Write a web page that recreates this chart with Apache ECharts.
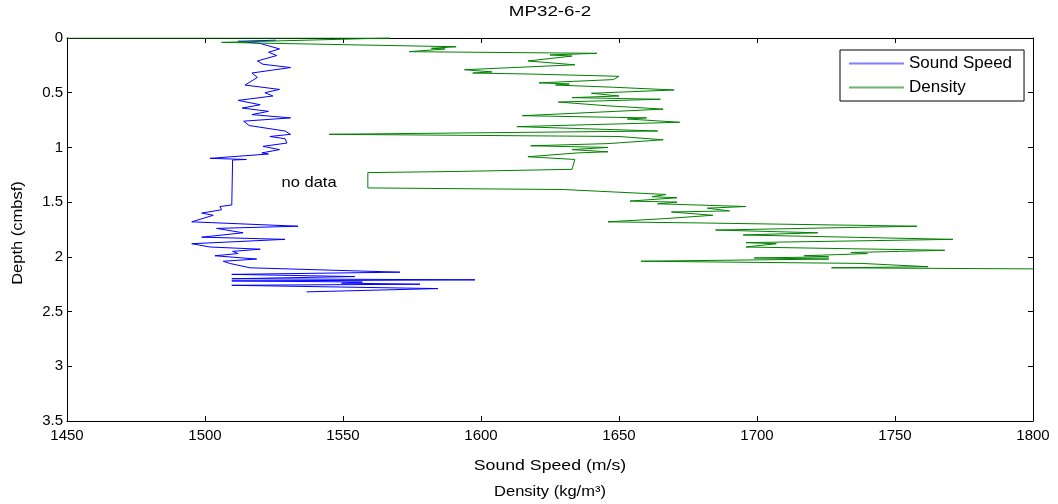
<!DOCTYPE html>
<html>
<head>
<meta charset="utf-8">
<script src="https://cdn.jsdelivr.net/npm/echarts@6/dist/echarts.min.js"></script>
<style>
html,body{margin:0;padding:0;background:#fff;}
#c{width:1058px;height:504px;}
</style>
</head>
<body>
<div id="c"></div>
<script>
// Sound speed (m/s) profile: values and depths (cmbsf)
const soundSpeed = [1525.7,1512,1520,1527,1523,1526,1519,1521,1531,1517,1519,1514.5,1527,1521.7,1524.6,1512,1520,1513.5,1523,1517,1531,1514,1516,1529,1531,1523.5,1529,1529.7,1521,1527,1520.6,1523,1501.8,1515,1510,1509.7,1509.7,1505.4,1506,1498.8,1503,1495.2,1533.7,1504.2,1513.8,1498.8,1529,1495.2,1501.8,1520,1510,1512,1503.6,1518.7,1506.6,1509,1516.3,1570.6,1509.7,1554.3,1509.7,1597.8,1509.7,1557,1549.5,1577.9,1509.7,1584.4,1536.8];
const soundDepth = [0.02,0.03,0.05,0.10,0.13,0.16,0.21,0.24,0.27,0.32,0.36,0.43,0.47,0.50,0.53,0.57,0.61,0.64,0.67,0.70,0.73,0.76,0.80,0.85,0.88,0.90,0.92,0.96,0.99,1.02,1.05,1.06,1.10,1.11,1.115,1.12,1.526,1.54,1.57,1.60,1.62,1.68,1.72,1.74,1.78,1.82,1.84,1.88,1.91,1.93,1.95,1.97,1.99,2.02,2.04,2.06,2.10,2.14,2.16,2.18,2.20,2.21,2.22,2.23,2.24,2.25,2.26,2.29,2.32];
// Density (kg/m^3) profile
const density = [1450,1567,1506,1591,1582,1587,1574,1642,1625,1633,1617,1634,1594,1604,1597,1619,1650,1648,1621,1632,1627,1648,1670,1640,1650,1633,1665,1628,1646,1666,1615,1660,1653,1672,1613,1664,1545,1650,1666,1646,1618,1646,1633,1646,1635,1617,1634,1633,1590,1559,1559,1630,1667,1662,1671,1654,1671,1664,1696,1682,1690,1669,1684,1667,1646,1679,1758,1685,1722,1695,1771,1696,1707,1696,1768,1752,1734,1740,1717,1726,1699,1726,1658,1738,1762,1727,1800];
const densityDepth = [0,0,0.04,0.08,0.094,0.10,0.125,0.14,0.155,0.165,0.21,0.245,0.29,0.31,0.32,0.33,0.35,0.38,0.41,0.42,0.43,0.45,0.475,0.505,0.53,0.545,0.56,0.585,0.62,0.65,0.71,0.73,0.74,0.77,0.81,0.85,0.88,0.90,0.93,0.965,0.985,1.00,1.02,1.04,1.05,1.085,1.11,1.20,1.22,1.23,1.37,1.385,1.43,1.45,1.46,1.49,1.50,1.515,1.54,1.555,1.58,1.59,1.62,1.65,1.68,1.69,1.72,1.755,1.78,1.80,1.84,1.87,1.88,1.91,1.94,1.95,1.96,1.97,1.99,2.00,2.01,2.02,2.04,2.06,2.09,2.10,2.11];
const xTicks = {min:1450, max:1800, interval:50};
const yTicks = {min:0, max:3.5, interval:0.5};

const FONT = 'Liberation Sans, Arial, sans-serif';
const chart = echarts.init(document.getElementById('c'), null, {renderer:'canvas'});
const axisLine = {show:true, onZero:false, lineStyle:{color:'#000', width:1}};
const tick = {show:true, inside:true, length:5, lineStyle:{color:'#000'}};
const lbl = {color:'#000', fontFamily:FONT, fontSize:15, formatter:v=>String(v)};

chart.setOption({
  animation:false,
  backgroundColor:'#fff',
  grid:{left:67, right:25, top:38, bottom:83, containLabel:false},
  xAxis:[
    {type:'value', position:'bottom', min:xTicks.min, max:xTicks.max, interval:xTicks.interval,
     axisLine, axisTick:tick, axisLabel:Object.assign({margin:7}, lbl), splitLine:{show:false}},
    {type:'value', position:'top', min:xTicks.min, max:xTicks.max, interval:xTicks.interval,
     axisLine, axisTick:tick, axisLabel:{show:false}, splitLine:{show:false}}
  ],
  yAxis:[
    {type:'value', position:'left', inverse:true, min:yTicks.min, max:yTicks.max, interval:yTicks.interval,
     axisLine, axisTick:tick, axisLabel:Object.assign({margin:4}, lbl), splitLine:{show:false}},
    {type:'value', position:'right', inverse:true, min:yTicks.min, max:yTicks.max, interval:yTicks.interval,
     axisLine, axisTick:tick, axisLabel:{show:false}, splitLine:{show:false}}
  ],
  legend:{
    left:840, top:50, orient:'vertical', itemWidth:55, itemHeight:2, itemGap:7,
    padding:[5,12,5,9], borderColor:'#000', borderWidth:1, backgroundColor:'#fff',
    textStyle:{color:'#000', fontFamily:FONT, fontSize:17, lineHeight:17},
    data:[
      {name:'Sound Speed', icon:'rect', itemStyle:{color:'#8080ff', borderWidth:0, opacity:1}},
      {name:'Density', icon:'rect', itemStyle:{color:'#70b070', borderWidth:0, opacity:1}}
    ]
  },
  series:[
    {name:'Sound Speed', type:'line', symbol:'none', showSymbol:false, xAxisIndex:0, yAxisIndex:0,
     lineStyle:{color:'#0000ff', width:1}, itemStyle:{color:'#0000ff'},
     data: soundSpeed.map((v,i)=>[v, soundDepth[i]]), clip:true},
    {name:'Density', type:'line', symbol:'none', showSymbol:false, xAxisIndex:0, yAxisIndex:0,
     lineStyle:{color:'#008000', width:1}, itemStyle:{color:'#008000'},
     data: density.map((v,i)=>[v, densityDepth[i]]), clip:true}
  ]
});

const nd = chart.convertToPixel({xAxisIndex:0, yAxisIndex:0}, [1537.7, 1.325]);
function txt(s, x, y, size, sx, rot){
  return {type:'text', x:x, y:y, rotation:rot||0, scaleX:sx||1,
    style:{text:s, x:0, y:0, fill:'#000', font:size+'px '+FONT, textAlign:'center', textVerticalAlign:'middle'}};
}
chart.setOption({
  graphic:[
    txt('MP32-6-2', 550, 12, 15, 1.25),
    txt('Sound Speed (m/s)', 550, 466, 15, 1.18),
    txt('Density (kg/m³)', 550, 492, 15, 1.1),
    Object.assign(txt('Depth (cmbsf)', 18, 233, 15, 1.1), {rotation:Math.PI/2}),
    txt('no data', nd[0], nd[1], 15, 1.1)
  ]
});
</script>
</body>
</html>
